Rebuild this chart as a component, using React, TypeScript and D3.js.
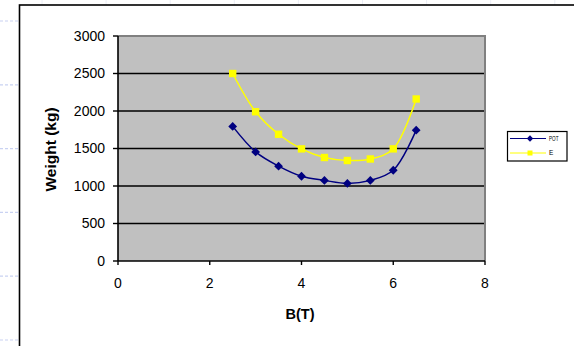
import React from "react";
import * as d3 from "d3";

const bValues = [2.5, 3, 3.5, 4, 4.5, 5, 5.5, 6, 6.5];
const potWeights = [1795, 1455, 1265, 1130, 1075, 1035, 1075, 1210, 1745];
const eWeights = [2500, 1990, 1690, 1495, 1380, 1340, 1360, 1495, 2160];
const xTicks = [0, 2, 4, 6, 8];
const yTicks = [0, 500, 1000, 1500, 2000, 2500, 3000];
const seriesNames = ["POT", "E"];

const W = 574;
const H = 346;
const plot = { left: 118, right: 485, top: 36, bottom: 261 };

export default function App() {
  const x = d3.scaleLinear().domain([0, 8]).range([plot.left, plot.right]);
  const y = d3.scaleLinear().domain([0, 3000]).range([plot.bottom, plot.top]);

  const line = d3
    .line<[number, number]>()
    .x((d) => x(d[0]))
    .y((d) => y(d[1]))
    .curve(d3.curveCatmullRom.alpha(0.5));

  const potPts = bValues.map((b, i) => [b, potWeights[i]] as [number, number]);
  const ePts = bValues.map((b, i) => [b, eWeights[i]] as [number, number]);

  const navy = "#000080";
  const yellow = "#ffff00";
  const font = "Liberation Sans, Arial, sans-serif";

  const diamond = (cx: number, cy: number, r: number) =>
    `M${cx},${cy - r}L${cx + r},${cy}L${cx},${cy + r}L${cx - r},${cy}Z`;

  // faint background guide marks
  const bgRows = d3.range(6).map((i) => 21 + i * 63.8);
  const bgCols = d3.range(9).map((i) => 42 + i * 64.1);

  return (
    <svg
      width={W}
      height={H}
      style={{ position: "absolute", left: 0, top: 0, background: "#fff" }}
      fontFamily={font}
    >
      {bgRows.map((r, i) => (
        <line key={"r" + i} x1={0} x2={18} y1={r} y2={r} stroke="#c9d2f2" strokeWidth={1.2} strokeDasharray="3,2" />
      ))}
      {bgCols.map((c, i) => (
        <line key={"c" + i} x1={c} x2={c} y1={0} y2={5} stroke="#eceef6" strokeWidth={1} />
      ))}

      {/* chart frame */}
      <rect x={19.5} y={5} width={W + 10} height={H + 10} fill="#fff" stroke="#000" strokeWidth={1.6} />

      {/* plot area */}
      <rect
        x={plot.left}
        y={plot.top}
        width={plot.right - plot.left}
        height={plot.bottom - plot.top}
        fill="#c0c0c0"
      />
      <path
        d={`M${plot.left},${plot.top}H${plot.right}V${plot.bottom}`}
        fill="none"
        stroke="#808080"
        strokeWidth={2}
      />

      {/* gridlines */}
      {yTicks.slice(1, -1).map((t) => (
        <line key={t} x1={plot.left} x2={plot.right - 1} y1={y(t)} y2={y(t)} stroke="#000" strokeWidth={1.4} />
      ))}

      {/* axes */}
      <line x1={plot.left} x2={plot.left} y1={plot.top} y2={plot.bottom} stroke="#000" strokeWidth={1.6} />
      <line x1={plot.left} x2={plot.right} y1={plot.bottom} y2={plot.bottom} stroke="#000" strokeWidth={1.6} />
      {yTicks.map((t) => (
        <g key={"yt" + t}>
          <line x1={plot.left - 5} x2={plot.left} y1={y(t)} y2={y(t)} stroke="#000" strokeWidth={1.4} />
          <text x={105} y={y(t)} dy="0.35em" textAnchor="end" fontSize={14}>
            {t}
          </text>
        </g>
      ))}
      {xTicks.map((t) => (
        <g key={"xt" + t}>
          <line x1={x(t)} x2={x(t)} y1={plot.bottom} y2={plot.bottom + 4} stroke="#000" strokeWidth={1.4} />
          <text x={x(t)} y={283} dy="0.35em" textAnchor="middle" fontSize={14}>
            {t}
          </text>
        </g>
      ))}

      {/* axis titles */}
      <text x={300} y={314} dy="0.35em" textAnchor="middle" fontSize={14.5} fontWeight="bold">
        B(T)
      </text>
      <text
        transform={`translate(51,${(plot.top + plot.bottom) / 2 + 1}) rotate(-90)`}
        dy="0.35em"
        textAnchor="middle"
        fontSize={15.5}
        fontWeight="bold"
      >
        Weight (kg)
      </text>

      {/* series */}
      <path d={line(potPts) || ""} fill="none" stroke={navy} strokeWidth={1.5} />
      <path d={line(ePts) || ""} fill="none" stroke={yellow} strokeWidth={1.5} />
      {potPts.map((p, i) => (
        <path key={"p" + i} d={diamond(x(p[0]), y(p[1]), 4.4)} fill={navy} />
      ))}
      {ePts.map((p, i) => (
        <rect key={"e" + i} x={x(p[0]) - 3.7} y={y(p[1]) - 3.7} width={7.4} height={7.4} fill={yellow} />
      ))}

      {/* legend */}
      <rect x={507.5} y={131.5} width={59.5} height={29.5} fill="#fff" stroke="#000" strokeWidth={1.2} />
      <line x1={510} x2={546} y1={138.5} y2={138.5} stroke={navy} strokeWidth={1.2} />
      <path d={diamond(530, 138.5, 3.2)} fill={navy} />
      <text x={549} y={138.5} dy="0.35em" fontSize={6.5} textLength={9.5} lengthAdjust="spacingAndGlyphs">
        {seriesNames[0]}
      </text>
      <line x1={510} x2={546} y1={153} y2={153} stroke={yellow} strokeWidth={1.2} />
      <rect x={527.5} y={150.5} width={5} height={5} fill={yellow} />
      <text x={549} y={153} dy="0.35em" fontSize={6.5}>
        {seriesNames[1]}
      </text>
    </svg>
  );
}
